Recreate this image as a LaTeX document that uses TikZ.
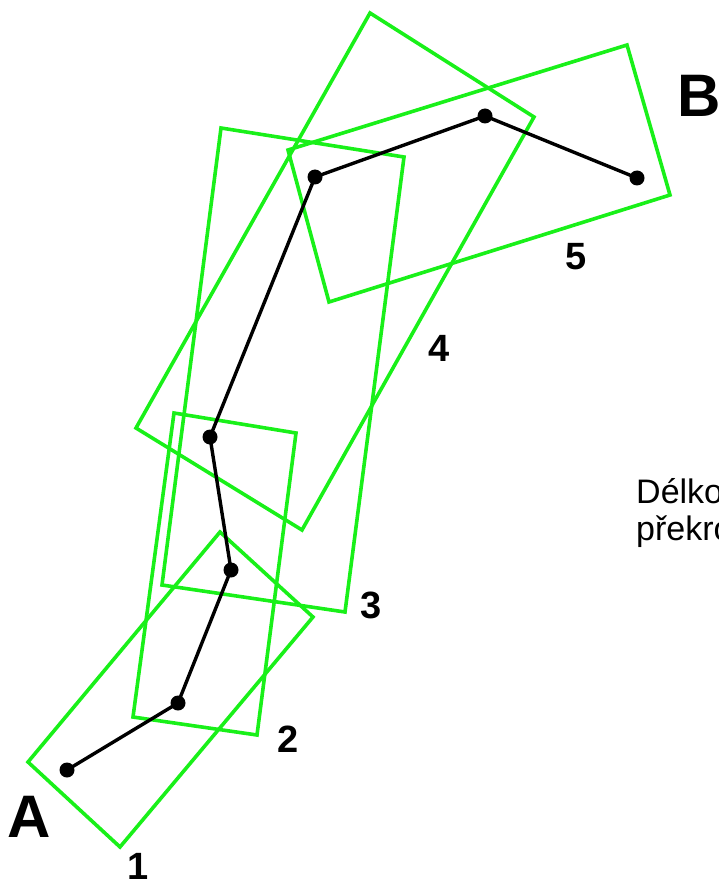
\documentclass[tikz,border=0pt]{standalone}
\usepackage{fontspec}
\setmainfont{Liberation Sans}
\definecolor{stripgreen}{RGB}{25,240,25}
\begin{document}
\begin{tikzpicture}[x=1pt, y=-1pt,
    strip/.style={draw=stripgreen, line width=3.6pt, line join=miter},
    route/.style={draw=black, line width=3.4pt},
    vertex/.style={circle, fill=black, inner sep=0pt, minimum size=15pt},
    endlabel/.style={font=\bfseries\fontsize{60}{60}\selectfont, inner sep=0pt},
    numlabel/.style={font=\bfseries\fontsize{38}{38}\selectfont, inner sep=0pt},
    note/.style={font=\fontsize{34}{38}\selectfont, inner sep=0pt, anchor=base west}]
    \useasboundingbox (0,0) rectangle (719,893);

    % Overlapping strips (green)
    \draw[strip] (28,762) -- (220,532) -- (313,617) -- (120,847) -- cycle;
    \draw[strip] (174,413) -- (296,433) -- (257,735) -- (133,717) -- cycle;
    \draw[strip] (221,128) -- (404,157) -- (345,612) -- (162,585) -- cycle;
    \draw[strip] (370,13) -- (534,117) -- (302,530) -- (136,428) -- cycle;
    \draw[strip] (288,150) -- (627,45) -- (670,195) -- (329,302) -- cycle;

    % Vertices of the line
    \node[vertex] (p1) at (67,770) {};
    \node[vertex] (p2) at (178,703) {};
    \node[vertex] (p3) at (231,570) {};
    \node[vertex] (p4) at (210,437) {};
    \node[vertex] (p5) at (315,177) {};
    \node[vertex] (p6) at (485,116) {};
    \node[vertex] (p7) at (637,178) {};
    \draw[route] (p1.center) -- (p2.center) -- (p3.center) -- (p4.center)
        -- (p5.center) -- (p6.center) -- (p7.center);

    % End points
    \node[endlabel] (labA) at (29,817) {A};
    \node[endlabel] (labB) at (699,96) {B};

    % Strip numbers
    \node[numlabel] (num1) at (138,866) {1};
    \node[numlabel] (num2) at (288,739) {2};
    \node[numlabel] (num3) at (371,605) {3};
    \node[numlabel] (num4) at (439,348) {4};
    \node[numlabel] (num5) at (576,257) {5};

    % Caption (cut at the right edge)
    \node[note] (capline1) at (636,503) {Délko};
    \node[note] (capline2) at (636,540) {překro};
\end{tikzpicture}
\end{document}
